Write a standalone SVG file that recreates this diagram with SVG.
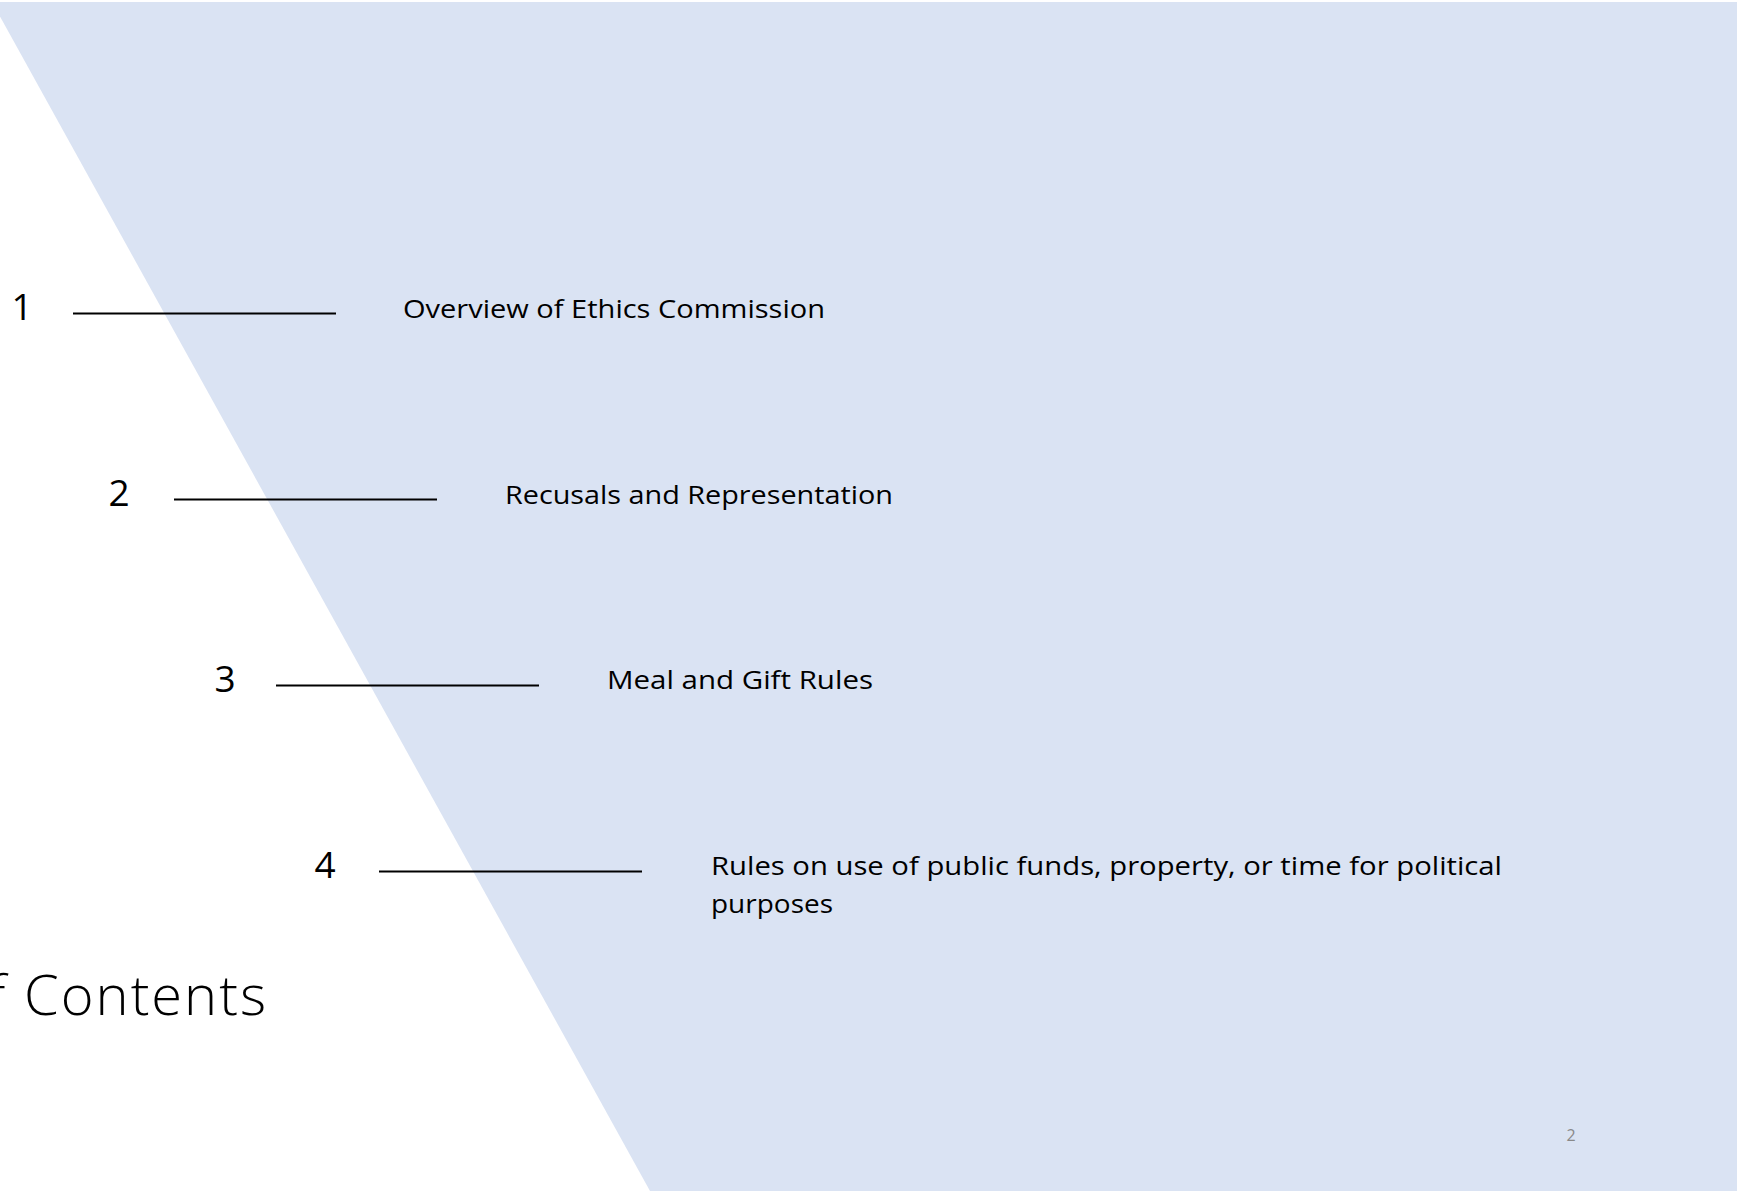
<svg xmlns="http://www.w3.org/2000/svg" width="1737" height="1191" viewBox="0 0 1737 1191">
<style>
.num{font-family:"Open Sans","Liberation Sans",sans-serif;font-size:37px;fill:#000}
.lbl{font-family:"Open Sans","Liberation Sans",sans-serif;font-size:26px;fill:#000}
.rule{stroke:#000;stroke-width:2}
.title{font-family:"Open Sans","Liberation Sans",sans-serif;font-weight:300;font-size:56px;fill:#000}
.pg{font-family:"Open Sans","Liberation Sans",sans-serif;font-size:16px;fill:#898989}
</style>
<rect x="0" y="0" width="1737" height="1191" fill="#fff"/>
<polygon id="band" points="-8,2 1737,2 1737,1191 650,1191" fill="#DAE3F3"/>
<text id="title" class="title" x="268" y="1015" text-anchor="end" letter-spacing="2">Table of Contents</text>
<g id="connectors">
<line class="rule" x1="73" y1="313.5" x2="336" y2="313.5" stroke-width="1.4"/>
<line class="rule" x1="174" y1="499.5" x2="437" y2="499.5"/>
<line class="rule" x1="276" y1="685.5" x2="539" y2="685.5"/>
<line class="rule" x1="379" y1="871.5" x2="642" y2="871.5"/>
</g>
<g id="item1">
<text class="num" x="22" y="320" text-anchor="middle">1</text>
<text class="lbl" x="403" y="318" textLength="422" lengthAdjust="spacingAndGlyphs">Overview of Ethics Commission</text>
</g>
<g id="item2">
<text class="num" x="119" y="506" text-anchor="middle">2</text>
<text class="lbl" x="505" y="504" textLength="388" lengthAdjust="spacingAndGlyphs">Recusals and Representation</text>
</g>
<g id="item3">
<text class="num" x="225" y="692" text-anchor="middle">3</text>
<text class="lbl" x="607" y="689" textLength="266" lengthAdjust="spacingAndGlyphs">Meal and Gift Rules</text>
</g>
<g id="item4">
<text class="num" x="325" y="878" text-anchor="middle">4</text>
<text class="lbl" x="711" y="875" textLength="791" lengthAdjust="spacingAndGlyphs">Rules on use of public funds, property, or time for political</text>
<text class="lbl" x="711" y="913" textLength="122" lengthAdjust="spacingAndGlyphs">purposes</text>
</g>
<text id="page" class="pg" x="1571" y="1141" text-anchor="middle">2</text>
</svg>
